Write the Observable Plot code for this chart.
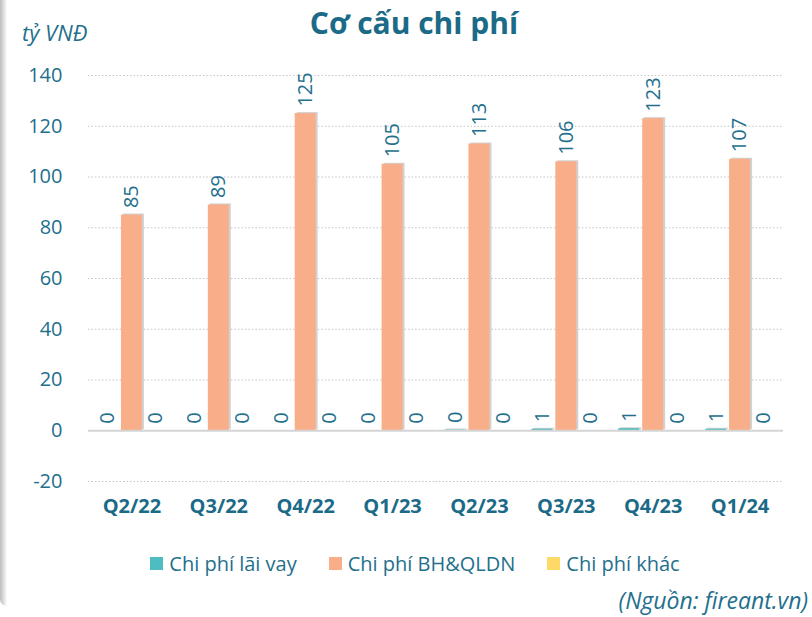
<!DOCTYPE html>
<html>
<head>
<meta charset="utf-8">
<script src="https://cdn.jsdelivr.net/npm/d3@7"></script>
<script src="https://cdn.jsdelivr.net/npm/@observablehq/plot@0.6"></script>
<style>
  body { margin: 0; background: #fff; font-family: "Open Sans", sans-serif; }
  #wrap { position: relative; width: 812px; height: 617px; overflow: hidden; background: #fff; }
  #edge { position: absolute; left: 0; top: 0; width: 7px; height: 606px;
          background: linear-gradient(to right, #bdbdbd, #e2e2e2 60%, #fff);
          border-bottom-left-radius: 10px; }
  #title { position: absolute; left: 0; width: 828px; top: 2px; text-align: center;
           font-weight: 700; font-size: 30px; color: #1b6a87; }
  #ylab { position: absolute; left: 22px; top: 17px; font-style: italic; font-size: 22px; color: #236f8c; }
  #chart { position: absolute; left: 0; top: 50px; }
  #legend { position: absolute; top: 550px; left: 0; width: 812px; display: flex; justify-content: center;
            gap: 32px; font-size: 20px; color: #236f8c; padding-left: 18px; box-sizing: border-box; }
  .item { display: flex; align-items: center; gap: 6px; }
  .sw { width: 13px; height: 13px; display: inline-block; }
  #caption { position: absolute; right: 4px; top: 584px; font-style: italic; font-size: 23px; color: #236f8c; }
</style>
</head>
<body>
<div id="wrap">
  <div id="edge"></div>
  <div id="title">Cơ cấu chi phí</div>
  <div id="ylab">tỷ VNĐ</div>
  <div id="chart"></div>
  <div id="legend"></div>
  <div id="caption">(Nguồn: fireant.vn)</div>
</div>
<script>
const quarters = ["Q2/22", "Q3/22", "Q4/22", "Q1/23", "Q2/23", "Q3/23", "Q4/23", "Q1/24"];
const seriesNames = ["Chi phí lãi vay", "Chi phí BH&QLDN", "Chi phí khác"];
const laiVay = [0, 0, 0, 0, 0.3, 0.6, 0.8, 0.6];
const bhQldn = [85, 89, 125, 105, 113, 106, 123, 107];
const khac = [0, 0, 0, 0, 0, 0, 0, 0];
const colors = ["#4dbdc1", "#f8ae88", "#fdd966"];
const yTicks = [-20, 0, 20, 40, 60, 80, 100, 120, 140];

const seriesValues = [laiVay, bhQldn, khac];
const data = [];
quarters.forEach((q, i) => {
  seriesNames.forEach((s, j) => {
    data.push({ q, s, v: seriesValues[j][i] });
  });
});

const textColor = "#236f8c";

const chart = Plot.plot({
  width: 812,
  height: 490,
  marginTop: 25,
  marginBottom: 59,
  marginLeft: 88,
  marginRight: 29,
  style: { fontFamily: "Open Sans, sans-serif", color: textColor, background: "transparent" },
  fx: { domain: quarters, padding: 0, round: false, label: null },
  x: { domain: seriesNames, paddingInner: 0.125, paddingOuter: 0.375, round: false, axis: null },
  y: { domain: [-20, 140], label: null },
  color: { domain: seriesNames, range: colors },
  marks: [
    Plot.ruleY(yTicks.filter(d => d !== 0), { stroke: "#c4c4c4", strokeDasharray: "1.5,2", strokeWidth: 1 }),
    Plot.axisY({ ticks: yTicks, tickSize: 0, tickPadding: 26, fontSize: 20, fill: textColor,
      tickFormat: d => String(d), label: null }),
    Plot.axisFx({ anchor: "bottom", tickSize: 0, tickPadding: 17, fontSize: 20, fontWeight: 700, fill: "#1b6a87", label: null }),
    Plot.barY(data, { fx: "q", x: "s", y: "v", fill: "#bdbdbd", fillOpacity: 0.7, dx: 2, dy: -1 }),
    Plot.barY(data, { fx: "q", x: "s", y: "v", fill: "s" }),
    Plot.ruleY([0], { stroke: "#d4d4d4", strokeWidth: 2 }),
    Plot.text(data, { fx: "q", x: "s", y: "v", text: d => d3.format(".0f")(d.v), rotate: -90,
      textAnchor: "start", lineAnchor: "middle", dy: -7, fill: textColor, fontSize: 20 })
  ]
});

document.getElementById("chart").appendChild(chart);

const legend = document.getElementById("legend");
seriesNames.forEach((s, i) => {
  const it = document.createElement("div");
  it.className = "item";
  const sw = document.createElement("span");
  sw.className = "sw";
  sw.style.background = colors[i];
  const t = document.createElement("span");
  t.textContent = s;
  it.appendChild(sw); it.appendChild(t);
  legend.appendChild(it);
});
</script>
</body>
</html>
